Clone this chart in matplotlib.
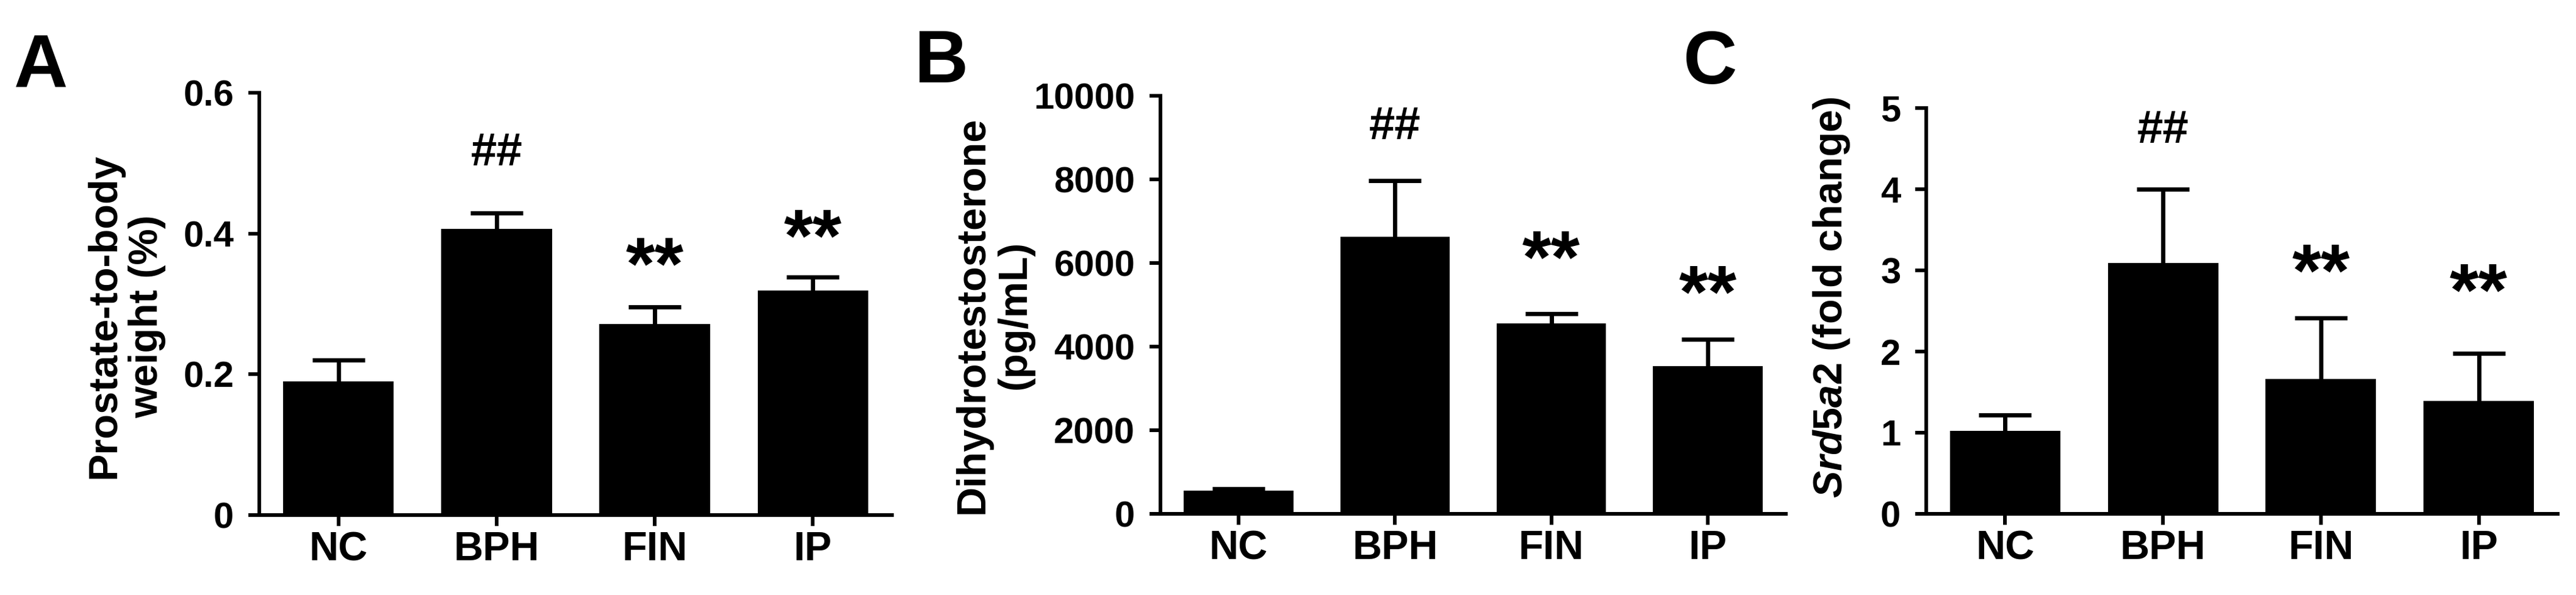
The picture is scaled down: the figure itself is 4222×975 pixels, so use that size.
import numpy as np
import matplotlib
matplotlib.use('Agg')
import matplotlib.pyplot as plt

plt.rcParams['font.family'] = ['Liberation Sans', 'DejaVu Sans']
plt.rcParams['font.weight'] = 'bold'
plt.rcParams['mathtext.fontset'] = 'custom'
plt.rcParams['mathtext.it'] = 'Liberation Sans:italic:bold'
plt.rcParams['mathtext.rm'] = 'Liberation Sans:bold'

groups = ['NC', 'BPH', 'FIN', 'IP']

# A: prostate-to-body weight (%)
weight_mean = [0.19, 0.407, 0.271, 0.319]
weight_err = [0.03, 0.022, 0.025, 0.019]
weight_marks = ['', '##', '**', '**']
weight_mark_y = [0, 0.52, 0.383, 0.423]

# B: dihydrotestosterone (pg/mL)
dht_mean = [555, 6630, 4560, 3540]
dht_err = [50, 1340, 230, 630]
dht_marks = ['', '##', '**', '**']
dht_mark_y = [0, 9350, 6570, 5750]

# C: Srd5a2 fold change
srd_mean = [1.02, 3.09, 1.66, 1.39]
srd_err = [0.2, 0.91, 0.75, 0.59]
srd_marks = ['', '##', '**', '**']
srd_mark_y = [0, 4.77, 3.22, 2.98]

W, H = 4222, 975
fig = plt.figure(figsize=(W / 100, H / 100), dpi=100)

LW = 4.3


def panel(rect, means, errs, marks, mark_y, ylim, yticks, yticklabels,
          ylabel, label_xy):
    ax = fig.add_axes(rect)
    x = np.arange(len(groups))
    ax.bar(x, means, width=0.7, color='black', edgecolor='black',
           linewidth=0, zorder=2)
    eb = ax.errorbar(x, means, yerr=[np.zeros(len(errs)), errs], fmt='none',
                     ecolor='black', elinewidth=5, capsize=31, capthick=5,
                     zorder=3)
    # keep only the upper caps
    for cap in eb.lines[1]:
        if np.allclose(cap.get_ydata(), means):
            cap.set_visible(False)
    for xi, m, my in zip(x, marks, mark_y):
        if not m:
            continue
        fs = 55 if m == '##' else 88
        off = 0.35 if m == '##' else 0.58
        ax.annotate(m, (xi, my), xytext=(0, -off * fs), textcoords='offset points',
                    ha='center', va='baseline', fontsize=fs, fontweight='bold')
    ax.set_xlim(-0.5, 3.5)
    ax.set_ylim(*ylim)
    ax.set_xticks(x)
    ax.set_xticklabels(groups, fontsize=48, fontweight='bold')
    ax.set_yticks(yticks)
    ax.set_yticklabels(yticklabels, fontsize=43, fontweight='bold')
    for s in ['top', 'right']:
        ax.spines[s].set_visible(False)
    for s in ['left', 'bottom']:
        ax.spines[s].set_linewidth(LW)
    ax.tick_params(axis='y', length=13, width=LW, pad=17)
    ax.tick_params(axis='x', length=13, width=LW, pad=6)
    ax.set_ylabel(ylabel, fontsize=48, fontweight='bold', linespacing=1.15)
    ax.yaxis.set_label_coords(*label_xy)
    return ax


panel([425 / W, 1 - 844 / H, 1037 / W, 692 / H], weight_mean, weight_err,
      weight_marks, weight_mark_y, (0, 0.6), [0, 0.2, 0.4, 0.6],
      ['0', '0.2', '0.4', '0.6'], 'Prostate-to-body\nweight (%)',
      (-0.1475, 0.471))

panel([1902 / W, 1 - 842 / H, 1025 / W, 685 / H], dht_mean, dht_err,
      dht_marks, dht_mark_y, (0, 10000), [0, 2000, 4000, 6000, 8000, 10000],
      ['0', '2000', '4000', '6000', '8000', '10000'],
      'Dihydrotestosterone\n(pg/mL)', (-0.202, 0.476))

panel([3157 / W, 1 - 842 / H, 1035 / W, 665 / H], srd_mean, srd_err,
      srd_marks, srd_mark_y, (0, 5), [0, 1, 2, 3, 4, 5],
      ['0', '1', '2', '3', '4', '5'],
      r'$\mathit{Srd5a2}$ (fold change)', (-0.118, 0.534))

fig.text(23 / W, 1 - 143 / H, 'A', fontsize=88, fontweight='bold', va='baseline')
fig.text(1499 / W, 1 - 135 / H, 'B', fontsize=88, fontweight='bold', va='baseline')
fig.text(2759 / W, 1 - 137 / H, 'C', fontsize=88, fontweight='bold', va='baseline')

fig.savefig('out.png', dpi=100, facecolor='white')
